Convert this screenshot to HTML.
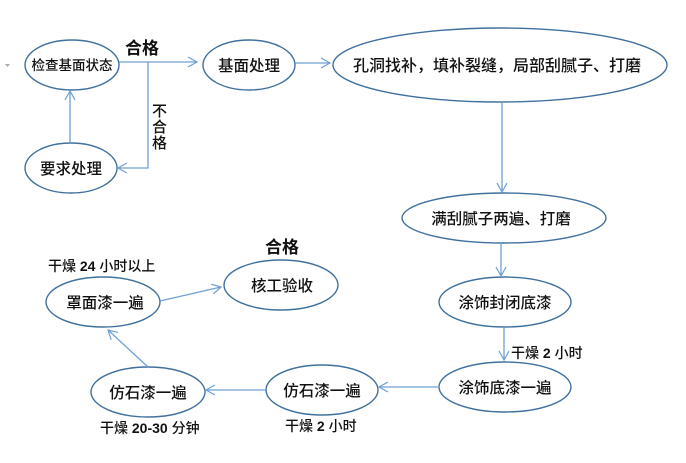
<!DOCTYPE html>
<html>
<head>
<meta charset="utf-8">
<style>
  html, body { margin:0; padding:0; background:#fff; }
  body { width:686px; height:463px; overflow:hidden; }
  svg { display:block; }
  text { font-family: "Liberation Sans", "Noto Sans CJK SC", sans-serif; fill:#111; }
  .n { font-size:15.5px; font-weight:500; }
  .lb { font-size:14px; font-weight:500; }
  .b { font-weight:bold; }
</style>
</head>
<body>
<svg width="686" height="463" viewBox="0 0 686 463" xmlns="http://www.w3.org/2000/svg">
  <defs>
    <marker id="ar" markerWidth="12" markerHeight="12" refX="10" refY="6" orient="auto" markerUnits="userSpaceOnUse">
      <path d="M1,1 L10,6 L1,11" fill="none" stroke="#6f9fd2" stroke-width="1.2"/>
    </marker>
  </defs>

  <!-- small gray mark -->
  <path d="M5,64 L10,64 L7.5,67 Z" fill="#aaa"/>

  <g fill="none" stroke="#40709e" stroke-width="1.4">
    <ellipse cx="72" cy="65" rx="47" ry="25"/>
    <ellipse cx="249" cy="65" rx="46" ry="25"/>
    <ellipse cx="71" cy="168" rx="46" ry="25"/>
    <ellipse cx="500" cy="65" rx="167" ry="37"/>
    <ellipse cx="504" cy="218" rx="102" ry="25"/>
    <ellipse cx="505" cy="302" rx="66" ry="25"/>
    <ellipse cx="505" cy="387" rx="66" ry="25"/>
    <ellipse cx="322" cy="390" rx="56" ry="25"/>
    <ellipse cx="148" cy="392" rx="57" ry="25"/>
    <ellipse cx="103" cy="302" rx="57" ry="25"/>
    <ellipse cx="281" cy="285" rx="57" ry="25"/>
  </g>

  <g fill="none" stroke="#6f9fd2" stroke-width="1.3">
    <line x1="119" y1="62" x2="197" y2="62" marker-end="url(#ar)"/>
    <line x1="295" y1="63" x2="330" y2="63" marker-end="url(#ar)"/>
    <polyline points="148,62 148,168 118,168" marker-end="url(#ar)"/>
    <line x1="70" y1="143" x2="70" y2="91" marker-end="url(#ar)"/>
    <line x1="502" y1="103" x2="502" y2="192" marker-end="url(#ar)"/>
    <line x1="501" y1="243" x2="501" y2="276" marker-end="url(#ar)"/>
    <line x1="504" y1="327" x2="504" y2="360" marker-end="url(#ar)"/>
    <line x1="439" y1="387" x2="379" y2="387" marker-end="url(#ar)"/>
    <line x1="266" y1="390" x2="206" y2="390" marker-end="url(#ar)"/>
    <line x1="148" y1="367" x2="108" y2="330" marker-end="url(#ar)"/>
    <line x1="160" y1="301" x2="221" y2="287" marker-end="url(#ar)"/>
  </g>

  <g text-anchor="middle">
    <text class="n" x="72" y="70" style="font-size:13.5px">检查基面状态</text>
    <text class="n" x="249" y="71">基面处理</text>
    <text class="n" x="71" y="174">要求处理</text>
    <text class="n" x="497" y="71" style="font-size:16px">孔洞找补，填补裂缝，局部刮腻子、打磨</text>
    <text class="n" x="501" y="224">满刮腻子两遍、打磨</text>
    <text class="n" x="505" y="308">涂饰封闭底漆</text>
    <text class="n" x="505" y="393">涂饰底漆一遍</text>
    <text class="n" x="322" y="396">仿石漆一遍</text>
    <text class="n" x="148" y="398">仿石漆一遍</text>
    <text class="n" x="105" y="308">罩面漆一遍</text>
    <text class="n" x="282" y="291">核工验收</text>

    <text x="142" y="54" style="font-size:17px;font-weight:bold">合格</text>
    <text x="282" y="253" style="font-size:17px;font-weight:bold">合格</text>
  </g>

  <g style="font-size:15px;font-weight:500">
    <text x="152" y="116">不</text>
    <text x="152" y="132">合</text>
    <text x="152" y="148">格</text>
  </g>

  <text class="lb" x="48" y="271">干燥 <tspan class="b">24</tspan> 小时以上</text>
  <text class="lb" x="511" y="358">干燥 <tspan class="b">2</tspan> 小时</text>
  <text class="lb" x="285" y="431">干燥 <tspan class="b">2</tspan> 小时</text>
  <text class="lb" x="100" y="433">干燥 <tspan class="b">20-30</tspan> 分钟</text>
</svg>
</body>
</html>
